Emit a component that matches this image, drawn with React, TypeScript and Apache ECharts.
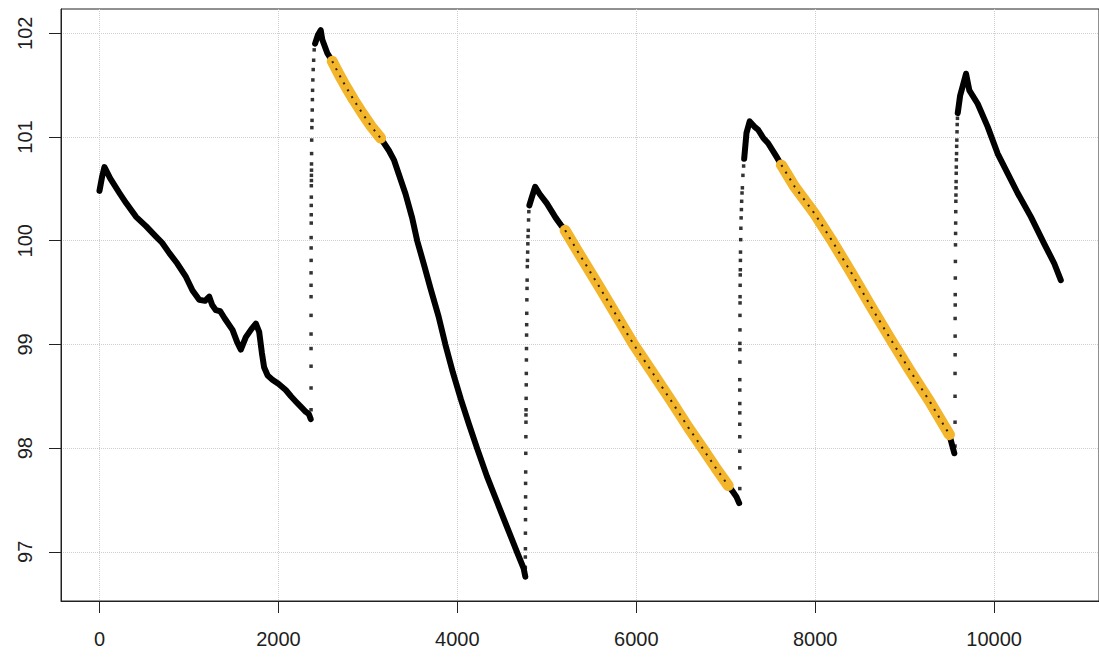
import React, { useEffect, useRef } from "react";
import * as echarts from "echarts";

// Axis ticks
const xTicks = [0, 2000, 4000, 6000, 8000, 10000];
const yTicks = [97, 98, 99, 100, 101, 102];
const xRange = [-430, 11172];
const yRange = [96.526, 102.234];

// Dense black runs
const seg1: number[][] = [
  [0, 100.48], [30, 100.62], [56, 100.71], [120, 100.6], [223, 100.46], [300, 100.36],
  [409, 100.23], [520, 100.14], [632, 100.04], [700, 99.98], [781, 99.88], [870, 99.78],
  [967, 99.65], [1040, 99.52], [1115, 99.43], [1180, 99.42], [1227, 99.46], [1260, 99.38],
  [1301, 99.33], [1350, 99.32], [1400, 99.25], [1487, 99.14], [1540, 99.02], [1580, 98.95],
  [1636, 99.07], [1700, 99.15], [1748, 99.2], [1785, 99.12], [1815, 98.92], [1840, 98.78],
  [1880, 98.7], [1933, 98.66], [2000, 98.62], [2082, 98.56], [2140, 98.5], [2194, 98.45],
  [2250, 98.4], [2306, 98.35], [2340, 98.33], [2361, 98.28],
];
const seg2: number[][] = [
  [2410, 101.9], [2440, 101.98], [2473, 102.03], [2490, 101.94], [2546, 101.81], [2602, 101.73],
  [2680, 101.6], [2751, 101.49], [2840, 101.36], [2937, 101.23], [3040, 101.1], [3142, 100.99],
  [3235, 100.87], [3291, 100.78], [3346, 100.64], [3421, 100.45], [3495, 100.22], [3551, 100.0],
  [3630, 99.76], [3700, 99.54], [3790, 99.27], [3866, 99.0], [3950, 98.73], [4040, 98.47],
  [4130, 98.23], [4220, 98.0], [4330, 97.73], [4440, 97.49], [4550, 97.25], [4666, 97.0],
  [4741, 96.84], [4760, 96.76],
];
const seg3: number[][] = [
  [4805, 100.34], [4833, 100.42], [4870, 100.52], [4920, 100.45], [5000, 100.36], [5100, 100.22],
  [5167, 100.14], [5205, 100.1], [5336, 99.91], [5577, 99.57], [5763, 99.3], [5970, 99.0],
  [6172, 98.74], [6395, 98.45], [6581, 98.2], [6740, 98.0], [6880, 97.82], [7027, 97.64],
  [7080, 97.58], [7120, 97.53], [7150, 97.47],
];
const seg4: number[][] = [
  [7206, 100.79], [7232, 101.04], [7268, 101.15], [7320, 101.1], [7362, 101.07], [7420, 100.99],
  [7474, 100.94], [7567, 100.81], [7622, 100.73], [7771, 100.52], [7994, 100.26], [8180, 100.01],
  [8404, 99.69], [8627, 99.36], [8850, 99.04], [9050, 98.76], [9280, 98.45], [9500, 98.13],
  [9530, 98.03], [9555, 97.95],
];
const seg5: number[][] = [
  [9593, 101.23], [9620, 101.4], [9649, 101.49], [9686, 101.61], [9723, 101.45], [9816, 101.32],
  [9927, 101.1], [10039, 100.84], [10151, 100.65], [10262, 100.46], [10411, 100.23],
  [10560, 99.97], [10672, 99.78], [10745, 99.62],
];

// Highlighted (orange) runs
const hi1: number[][] = [
  [2602, 101.73], [2680, 101.6], [2751, 101.49], [2840, 101.36], [2937, 101.23], [3040, 101.1], [3142, 100.99],
];
const hi2: number[][] = [
  [5205, 100.1], [5336, 99.91], [5577, 99.57], [5763, 99.3], [5970, 99.0], [6172, 98.74],
  [6395, 98.45], [6581, 98.2], [6740, 98.0], [6880, 97.82], [7027, 97.64],
];
const hi3: number[][] = [
  [7622, 100.73], [7771, 100.52], [7994, 100.26], [8180, 100.01], [8404, 99.69], [8627, 99.36],
  [8850, 99.04], [9050, 98.76], [9280, 98.45], [9500, 98.13],
];

// Sparse points on the jumps
const jump1: number[][] = [
  [2365, 98.37], [2365, 98.58], [2365, 98.79], [2365, 98.96], [2365, 99.1], [2365, 99.28],
  [2365, 99.46], [2365, 99.57], [2365, 99.69], [2366, 99.81], [2366, 99.93], [2366, 100.03],
  [2367, 100.17], [2367, 100.25], [2367, 100.34], [2368, 100.42], [2368, 100.53], [2369, 100.58],
  [2369, 100.63], [2370, 100.68], [2370, 100.74], [2371, 100.84], [2372, 100.97], [2374, 101.09],
  [2376, 101.16], [2378, 101.26], [2380, 101.36], [2382, 101.45], [2385, 101.55], [2389, 101.65],
  [2394, 101.74], [2400, 101.84], [2406, 101.91],
];
const jump2: number[][] = [
  [4760, 96.85], [4760, 96.95], [4761, 97.03], [4761, 97.18], [4762, 97.31], [4762, 97.42],
  [4763, 97.53], [4763, 97.66], [4764, 97.77], [4765, 97.95], [4766, 98.11], [4767, 98.25],
  [4767, 98.32], [4768, 98.37], [4769, 98.48], [4770, 98.61], [4771, 98.72], [4772, 98.85],
  [4773, 98.96], [4774, 99.09], [4775, 99.19], [4776, 99.3], [4777, 99.43], [4779, 99.54],
  [4780, 99.62], [4782, 99.75], [4784, 99.81], [4786, 99.89], [4788, 99.97], [4790, 100.04],
  [4793, 100.1], [4796, 100.2], [4799, 100.28], [4802, 100.34],
];
const jump3: number[][] = [
  [7157, 97.61], [7157, 97.81], [7157, 97.97], [7157, 98.11], [7157, 98.23], [7157, 98.34],
  [7157, 98.43], [7157, 98.56], [7157, 98.66], [7158, 98.83], [7158, 98.95], [7158, 99.01],
  [7159, 99.14], [7159, 99.28], [7160, 99.4], [7160, 99.46], [7161, 99.57], [7162, 99.67],
  [7163, 99.72], [7164, 99.81], [7165, 99.89], [7167, 100.01], [7169, 100.12], [7172, 100.22],
  [7175, 100.3], [7178, 100.38], [7182, 100.46], [7186, 100.51], [7192, 100.63], [7200, 100.72],
];
const jump4: number[][] = [
  [9563, 98.02], [9563, 98.25], [9563, 98.5], [9563, 98.72], [9564, 98.9], [9564, 99.08],
  [9564, 99.25], [9565, 99.38], [9565, 99.48], [9566, 99.64], [9567, 99.8], [9568, 99.96],
  [9569, 100.07], [9570, 100.17], [9571, 100.28], [9572, 100.38], [9573, 100.44], [9574, 100.51],
  [9575, 100.57], [9576, 100.65], [9577, 100.71], [9578, 100.78], [9580, 100.84], [9581, 100.91],
  [9583, 100.97], [9585, 101.05], [9587, 101.12], [9590, 101.18],
];

const BLACK = "#000000";
const ORANGE = "#F2B52C";
const TEXT = "#1e1e1e";
const FONT = "'Liberation Sans', Arial, sans-serif";

function blackLine(data: number[][]) {
  return {
    type: "line",
    data,
    showSymbol: false,
    silent: true,
    z: 2,
    lineStyle: { color: BLACK, width: 6, cap: "round", join: "round" },
  };
}
function jumpDots(data: number[][]) {
  return {
    type: "scatter",
    data,
    symbol: "rect",
    symbolSize: 3.5,
    silent: true,
    z: 2,
    itemStyle: { color: BLACK },
  };
}
function orangeBand(data: number[][]) {
  return {
    type: "line",
    data,
    showSymbol: false,
    silent: true,
    z: 3,
    lineStyle: { color: ORANGE, width: 11, cap: "round", join: "round" },
  };
}
function dottedLine(data: number[][]) {
  return {
    type: "line",
    data,
    showSymbol: false,
    silent: true,
    z: 4,
    lineStyle: { color: "#2a1e08", width: 2, type: [2, 6] },
  };
}

export default function App() {
  const ref = useRef<HTMLDivElement>(null);
  useEffect(() => {
    document.body.style.margin = "0";
    const chart = echarts.init(ref.current!, null, { renderer: "svg" });
    chart.setOption({
      animation: false,
      backgroundColor: "#ffffff",
      grid: {
        left: 61,
        top: 9,
        width: 1041,
        height: 592,
        show: true,
        borderColor: "#222",
        borderWidth: 1,
        backgroundColor: "transparent",
      },
      xAxis: {
        type: "value",
        min: xRange[0],
        max: xRange[1],
        axisLine: { show: true, onZero: false, lineStyle: { color: "#222", width: 1 } },
        axisTick: { show: true, inside: false, length: 12, customValues: xTicks, lineStyle: { color: "#222" } },
        axisLabel: {
          customValues: xTicks,
          margin: 28,
          fontSize: 20,
          color: TEXT,
          fontFamily: FONT,
          formatter: (v: number) => String(v),
        },
        splitLine: { show: true, lineStyle: { type: "dotted", color: "#cfcfcf", width: 1 } },
      },
      yAxis: {
        type: "value",
        min: yRange[0],
        max: yRange[1],
        axisLine: { show: true, onZero: false, lineStyle: { color: "#222", width: 1 } },
        axisTick: { show: true, inside: false, length: 12, customValues: yTicks, lineStyle: { color: "#222" } },
        axisLabel: {
          customValues: yTicks,
          rotate: 90,
          margin: 26,
          fontSize: 20,
          color: TEXT,
          fontFamily: FONT,
          formatter: (v: number) => String(v),
        },
        splitLine: { show: true, lineStyle: { type: "dotted", color: "#cfcfcf", width: 1 } },
      },
      series: [
        blackLine(seg1),
        blackLine(seg2),
        blackLine(seg3),
        blackLine(seg4),
        blackLine(seg5),
        jumpDots(jump1),
        jumpDots(jump2),
        jumpDots(jump3),
        jumpDots(jump4),
        orangeBand(hi1),
        orangeBand(hi2),
        orangeBand(hi3),
        dottedLine(hi1),
        dottedLine(hi2),
        dottedLine(hi3),
      ],
    });
    return () => chart.dispose();
  }, []);
  return <div ref={ref} style={{ width: 1099, height: 657, background: "#fff" }} />;
}
